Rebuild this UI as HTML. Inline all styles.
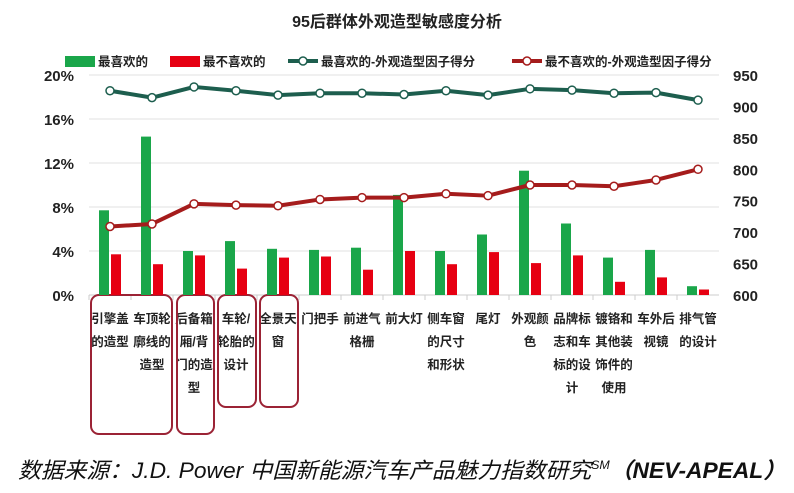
<!DOCTYPE html>
<html><head><meta charset="utf-8">
<style>
html,body{margin:0;padding:0;background:#fff;}
svg{display:block;font-family:"Liberation Sans","Noto Sans CJK SC",sans-serif;}
</style></head>
<body>
<svg id="chart" width="794" height="493" viewBox="0 0 794 493">
<text x="397" y="27" text-anchor="middle" font-size="16" font-weight="bold" fill="#222">95后群体外观造型敏感度分析</text>
<g>
<rect x="65" y="56" width="30" height="11" fill="#1aa64a"/>
<text x="98" y="66" font-size="12.5" font-weight="bold" fill="#222">最喜欢的</text>
<rect x="170" y="56" width="30" height="11" fill="#e60012"/>
<text x="203" y="66" font-size="12.5" font-weight="bold" fill="#222">最不喜欢的</text>
<line x1="288" y1="61" x2="318" y2="61" stroke="#1d5e4e" stroke-width="4"/>
<circle cx="303" cy="61" r="4" fill="#fff" stroke="#1d5e4e" stroke-width="1.5"/>
<text x="321" y="66" font-size="12.5" font-weight="bold" fill="#222">最喜欢的-外观造型因子得分</text>
<line x1="512" y1="61" x2="542" y2="61" stroke="#a51c1c" stroke-width="4"/>
<circle cx="527" cy="61" r="4" fill="#fff" stroke="#a51c1c" stroke-width="1.5"/>
<text x="545" y="66" font-size="12.5" font-weight="bold" fill="#222">最不喜欢的-外观造型因子得分</text>
</g>
<g id="grid"></g>
<g id="boxes">
<rect x="91" y="295" width="81" height="139" rx="8" fill="none" stroke="#9b2335" stroke-width="2"/>
<rect x="177" y="295" width="37" height="139" rx="8" fill="none" stroke="#9b2335" stroke-width="2"/>
<rect x="218" y="295" width="38" height="112" rx="8" fill="none" stroke="#9b2335" stroke-width="2"/>
<rect x="260" y="295" width="38" height="112" rx="8" fill="none" stroke="#9b2335" stroke-width="2"/>
</g>
<g id="marks"></g>
<text x="18" y="478" font-size="22" font-style="italic" fill="#111" textLength="768" lengthAdjust="spacingAndGlyphs">数据来源：J.D. Power 中国新能源汽车产品魅力指数研究<tspan font-size="12" dy="-9">SM</tspan><tspan dy="9" font-weight="bold">（NEV-APEAL）</tspan></text>
</svg>
<script>
const categories=[["引擎盖","的造型"],["车顶轮","廓线的","造型"],["后备箱","厢/背","门的造","型"],["车轮/","轮胎的","设计"],["全景天","窗"],["门把手"],["前进气","格栅"],["前大灯"],["侧车窗","的尺寸","和形状"],["尾灯"],["外观颜","色"],["品牌标","志和车","标的设","计"],["镀铬和","其他装","饰件的","使用"],["车外后","视镜"],["排气管","的设计"]];
const likePct=[7.7,14.4,4.0,4.9,4.2,4.1,4.3,9.1,4.0,5.5,11.3,6.5,3.4,4.1,0.8];
const dislikePct=[3.7,2.8,3.6,2.4,3.4,3.5,2.3,4.0,2.8,3.9,2.9,3.6,1.2,1.6,0.5];
const likeScore=[925,914,931,925,918,921,921,919,925,918,928,926,921,922,910];
const dislikeScore=[709,713,745,743,742,752,755,755,761,758,775,775,773,783,800];
const leftTicks=[0,4,8,12,16,20];
const rightTicks=[600,650,700,750,800,850,900,950];

const NS="http://www.w3.org/2000/svg";
const L=89,R=719,T=75,B=295;
const step=(R-L)/categories.length;
const xC=i=>L+step*(i+0.5);
const yL=v=>B-(v/20)*(B-T);
const yR=v=>B-((v-600)/350)*(B-T);
function mk(tag,attrs,parent){const e=document.createElementNS(NS,tag);for(const k in attrs)e.setAttribute(k,attrs[k]);parent.appendChild(e);return e;}
const grid=document.getElementById('grid'),marks=document.getElementById('marks');
leftTicks.forEach(t=>{
  const ln=mk('line',{x1:L,x2:R,y1:yL(t),y2:yL(t),stroke:t===0?'#ccc':'#e2e2e2','stroke-width':1},grid);
  
  
  const tx=mk('text',{x:74,y:yL(t)+6,'text-anchor':'end','font-size':15,'font-weight':'bold',fill:'#222'},grid);
  tx.textContent=t+'%';
  
  
});
rightTicks.forEach(t=>{
  const tx=mk('text',{x:733,y:yR(t)+6,'font-size':15,'font-weight':'bold',fill:'#222'},grid);
  tx.textContent=t;
  
  
});
categories.forEach((c,i)=>{
  const tk=mk('line',{x1:L+step*i,x2:L+step*i,y1:B,y2:B+5,stroke:'#ccc'},grid);
  
  
  c.forEach((s,j)=>{
    const tx=mk('text',{x:xC(i),y:323+j*23,'text-anchor':'middle','font-size':12.5,'font-weight':'bold',fill:'#222'},grid);
    tx.textContent=s;
    
    
  });
  const g=mk('rect',{x:xC(i)-11,y:yL(likePct[i]),width:10,height:B-yL(likePct[i]),fill:'#1aa64a'},marks);
  
  
  const r=mk('rect',{x:xC(i)+1,y:yL(dislikePct[i]),width:10,height:B-yL(dislikePct[i]),fill:'#e60012'},marks);
  
  
});
function line(vals,color,name){
  const p=mk('polyline',{points:vals.map((v,i)=>xC(i)+','+yR(v)).join(' '),fill:'none',stroke:color,'stroke-width':4,'stroke-linejoin':'round'},marks);
  
  
  vals.forEach((v,i)=>{
    const c=mk('circle',{cx:xC(i),cy:yR(v),r:4,fill:'#fff',stroke:color,'stroke-width':1.5},marks);
    
    
  });
}
line(likeScore,'#1d5e4e','like-score');
line(dislikeScore,'#a51c1c','dislike-score');
</script>
</body></html>
